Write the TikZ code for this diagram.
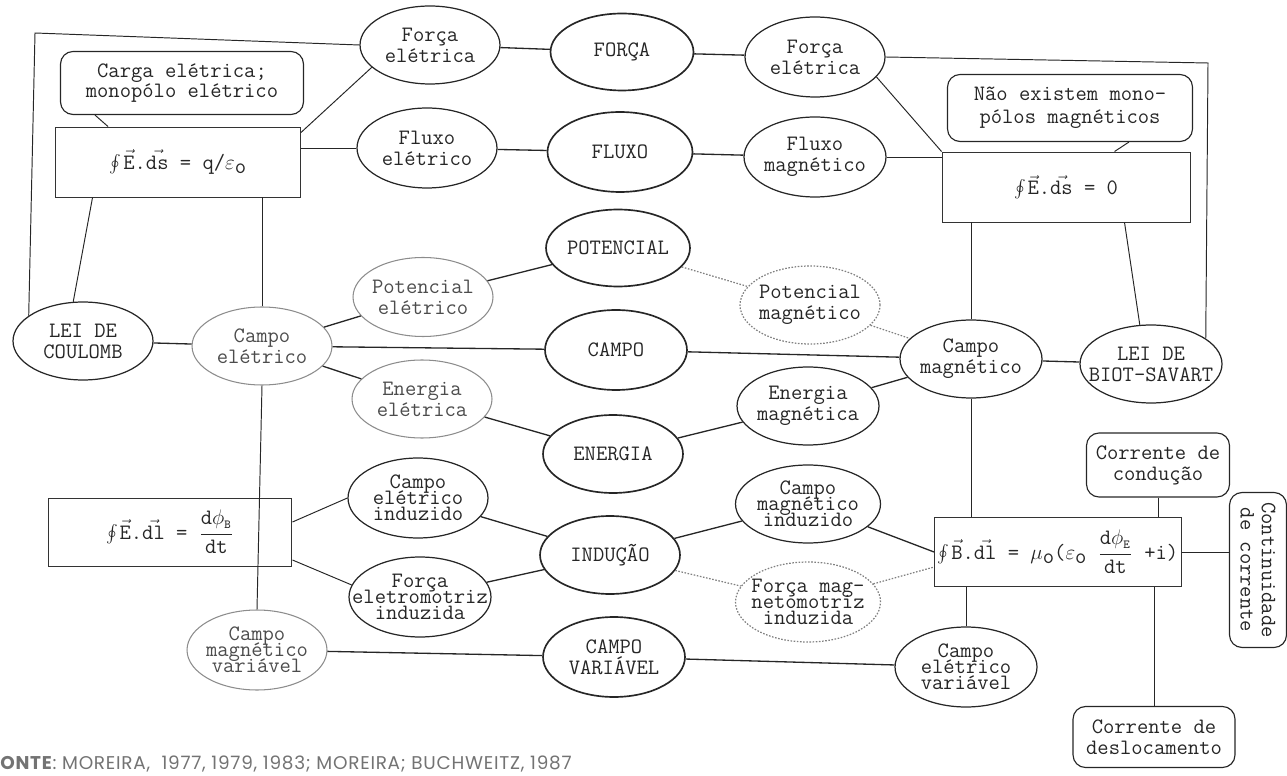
\documentclass[tikz,border=0pt]{standalone}
\usepackage{fontspec}
\newfontfamily\sourcefont[LetterSpace=4]{Poppins}
\usetikzlibrary{shapes.geometric}

% centred stack of lines with a fixed baseline distance and zero width,
% so that the shape size comes only from the minimum sizes
\newcommand\lines[2][12pt]{\makebox[0pt]{\vbox{\baselineskip=#1\relax\lineskiplimit=-\maxdimen
  \halign{\hfil##\hfil\cr#2\crcr}}}}
\newcommand\vv[1]{$\vec{\hbox{#1}}$}
\newcommand\subo{\raisebox{-0.45ex}{o}}
\newcommand\circint{$\oint$\kern1pt}

\begin{document}
\begin{tikzpicture}[x=0.02cm,y=-0.02cm,
  base/.style={inner sep=0pt, text=black!85, font=\ttfamily\fontsize{12.5}{12}\selectfont},
  ell/.style={base, ellipse, draw=black!85, line width=0.7pt, minimum width=2.8cm, minimum height=1.56cm},
  keyell/.style={ell, line width=0.95pt},
  greyell/.style={ell, draw=black!45, text=black!70, line width=0.6pt},
  dotell/.style={ell, draw=black!50, dash pattern=on 0.9pt off 0.9pt, line width=0.7pt},
  eqbox/.style={base, rectangle, draw=black!80, line width=0.55pt},
  note/.style={base, rectangle, rounded corners=0.25cm, draw=black!85, line width=0.65pt},
  link/.style={draw=black!85, line width=0.75pt},
  frame/.style={draw=black!85, line width=0.55pt},
  dotlink/.style={draw=black!50, dash pattern=on 0.9pt off 0.9pt, line width=0.7pt}]
\useasboundingbox (0,0) rectangle (1287,776);

% ---- top rows: force and flux
\node[ell] (fe1) at (430,45) {\lines{Força\cr elétrica}};
\node[keyell, minimum width=2.86cm, minimum height=1.54cm] (forca) at (622,52) {FORÇA};
\node[ell, minimum height=1.6cm] (fe2) at (815,57) {\lines{Força\cr elétrica}};
\node[ell, minimum height=1.6cm] (fle) at (427,148) {\lines{Fluxo\cr elétrico}};
\node[keyell, minimum width=2.9cm, minimum height=1.6cm] (fluxo) at (620,152) {FLUXO};
\node[ell, minimum width=2.84cm, minimum height=1.6cm] (flm) at (815,157) {\lines{Fluxo\cr magnético}};

% ---- Gauss laws and notes
\node[note, minimum width=4.86cm, minimum height=1.26cm] (carga) at (182,83)
  {\lines[11.5pt]{Carga elétrica;\cr monopólo elétrico}};
\node[eqbox, minimum width=4.9cm, minimum height=1.4cm] (eq1) at (178,162)
  {\circint\vv{E}.\vv{ds} = q/$\varepsilon$\subo};
\node[note, minimum width=4.9cm, minimum height=1.34cm] (nao) at (1070,108)
  {\lines[13pt]{Não existem mono-\cr pólos magnéticos}};
\node[eqbox, minimum width=4.96cm, minimum height=1.4cm] (eq2) at (1066,187)
  {\circint\vv{E}.\vv{ds} = 0};

% ---- fields, potential, energy
\node[ell] (lc) at (83,341) {\lines{LEI DE\cr COULOMB}};
\node[greyell] (ce) at (262,346) {\lines{Campo\cr elétrico}};
\node[greyell, minimum height=1.58cm] (pe) at (423,297) {\lines{Potencial\cr elétrico}};
\node[keyell, minimum height=1.54cm] (pot) at (618,248) {POTENCIAL};
\node[dotell] (pm) at (810,305) {\lines{Potencial\cr magnético}};
\node[keyell, minimum width=2.84cm, minimum height=1.6cm] (campo) at (616,350) {CAMPO};
\node[greyell] (ee) at (422,399) {\lines{Energia\cr elétrica}};
\node[keyell] (energia) at (613,454) {ENERGIA};
\node[ell, minimum width=2.84cm] (em) at (808,406) {\lines{Energia\cr magnética}};
\node[ell, minimum width=2.84cm] (cm) at (971,359) {\lines{Campo\cr magnético}};
\node[ell, minimum width=2.84cm] (bs) at (1151,364) {\lines{LEI DE\cr BIOT-SAVART}};

% ---- induction
\node[eqbox, minimum width=4.88cm, minimum height=1.36cm] (eq3) at (170,532)
  {\circint\vv{E}.\vv{dl} = $\displaystyle\frac{\hbox{d}\phi_{\hbox{\scriptsize B}}}{\hbox{dt}}$};
\node[ell, minimum height=1.6cm] (cei) at (418,498) {\lines[9pt]{Campo\cr elétrico\cr induzido}};
\node[ell, minimum width=2.84cm, minimum height=1.6cm] (fem) at (420,597) {\lines[9pt]{Força\cr eletromotriz\cr induzida}};
\node[keyell] (ind) at (610,555) {INDUÇÃO};
\node[ell, minimum width=2.9cm] (cmi) at (808,504) {\lines[9pt]{Campo\cr magnético\cr induzido}};
\node[dotell, minimum width=2.9cm, minimum height=1.6cm] (fmi) at (808,602) {\lines[9pt]{Força mag-\cr netomotriz\cr induzida}};
\node[eqbox, minimum width=4.94cm, minimum height=1.38cm] (eq4) at (1058,552)
  {\circint\vv{B}.\vv{dl} = $\mu$\subo($\varepsilon$\subo\
   $\displaystyle\frac{\hbox{d}\phi_{\hbox{\scriptsize E}}}{\hbox{dt}}$ +i)};
\node[note, minimum width=2.86cm, minimum height=1.28cm] (cc) at (1158,465) {\lines{Corrente de\cr condução}};
\node[note, rotate=-90, minimum width=3.1cm, minimum height=1.14cm] (cont) at (1258,570) {\lines{Continuidade\cr de corrente}};
\node[note, minimum width=3.24cm, minimum height=1.22cm] (cd) at (1154,737) {\lines{Corrente de\cr deslocamento}};

% ---- varying fields
\node[greyell, minimum height=1.6cm] (cmv) at (257,650) {\lines[9pt]{Campo\cr magnético\cr variável}};
\node[keyell, minimum width=2.84cm, minimum height=1.6cm] (cv) at (614,657) {\lines{CAMPO\cr VARIÁVEL}};
\node[ell, minimum width=2.84cm, minimum height=1.6cm] (cev) at (966,667) {\lines[9pt]{Campo\cr elétrico\cr variável}};

% ---- outer frames
\coordinate (ftl) at (35,33);
\coordinate (ftr) at (1208,63);
\draw[frame] (fe1.west) -- (ftl) -- (lc.155);
\draw[frame] (fe2.east) -- (ftr) -- (bs.25);

% ---- connectors
\draw[link] (fe1) -- (forca);
\draw[link] (forca) -- (fe2);
\draw[link] (fle) -- (fluxo);
\draw[link] (fluxo) -- (flm);
\draw[frame] ([xshift=0.7cm]carga.south west) -- ([xshift=1.06cm]eq1.north west);
\draw[frame] ([yshift=-0.12cm]eq1.north east) -- (fe1.201);
\draw[frame] (fle.west) -- (fle.west -| eq1.east);
\draw[frame] ([xshift=0.75cm]eq1.south west) -- (lc.104);
\draw[frame] (ce.north) -- (ce.north |- eq1.south);
\draw[frame] (fe2.-18) -- (eq2.north west);
\draw[frame] (flm.east) -- (flm.east -| eq2.west);
\draw[frame] ([xshift=3.64cm]nao.south west) -- ([xshift=3.46cm]eq2.north west);
\draw[frame] (cm.north) -- (cm.north |- eq2.south);
\draw[frame] ([xshift=3.66cm]eq2.south west) -- (bs.106);

\draw[link] (lc) -- (ce);
\draw[link] (ce) -- (pe);
\draw[link] (pe) -- (pot);
\draw[dotlink] (pot) -- (pm);
\draw[dotlink] (pm) -- (cm);
\draw[link] (ce) -- (campo);
\draw[link] (campo) -- (cm);
\draw[link] (ce) -- (ee);
\draw[link] (ee) -- (energia);
\draw[link] (energia) -- (em);
\draw[link] (em) -- (cm);
\draw[link] (cm) -- (bs);
\draw[frame] (ce.south) -- (cmv.north);

\draw[frame] ([yshift=0.2cm]eq3.east) -- (cei.west);
\draw[frame] ([yshift=-0.56cm]eq3.east) -- (fem.170);
\draw[link] (cei) -- (ind);
\draw[link] (fem) -- (ind);
\draw[link] (ind) -- (cmi);
\draw[dotlink] (ind) -- (fmi);
\draw[link] (cmi) -- (eq4.west);
\draw[dotlink] (fmi) -- ([yshift=-0.3cm]eq4.west);
\draw[frame] (cm.south) -- (cm.south |- eq4.north);
\draw[frame] (cc.south) -- (cc.south |- eq4.north);
\draw[frame] (eq4.east) -- (eq4.east -| cont.south);
\draw[frame] (cev.north) -- (cev.north |- eq4.south);
\draw[frame] (cd.north) -- (cd.north |- eq4.south);
\draw[link] (cmv) -- (cv);
\draw[link] (cv) -- (cev);

% ---- source line
\node[anchor=base west, inner sep=0pt, text=black!55, font=\sourcefont\fontsize{10.5}{12}\selectfont] (fonte) at (0,769)
  {\textbf{ONTE}: MOREIRA,\ \ 1977, 1979, 1983; MOREIRA; BUCHWEITZ, 1987};
\end{tikzpicture}
\end{document}
